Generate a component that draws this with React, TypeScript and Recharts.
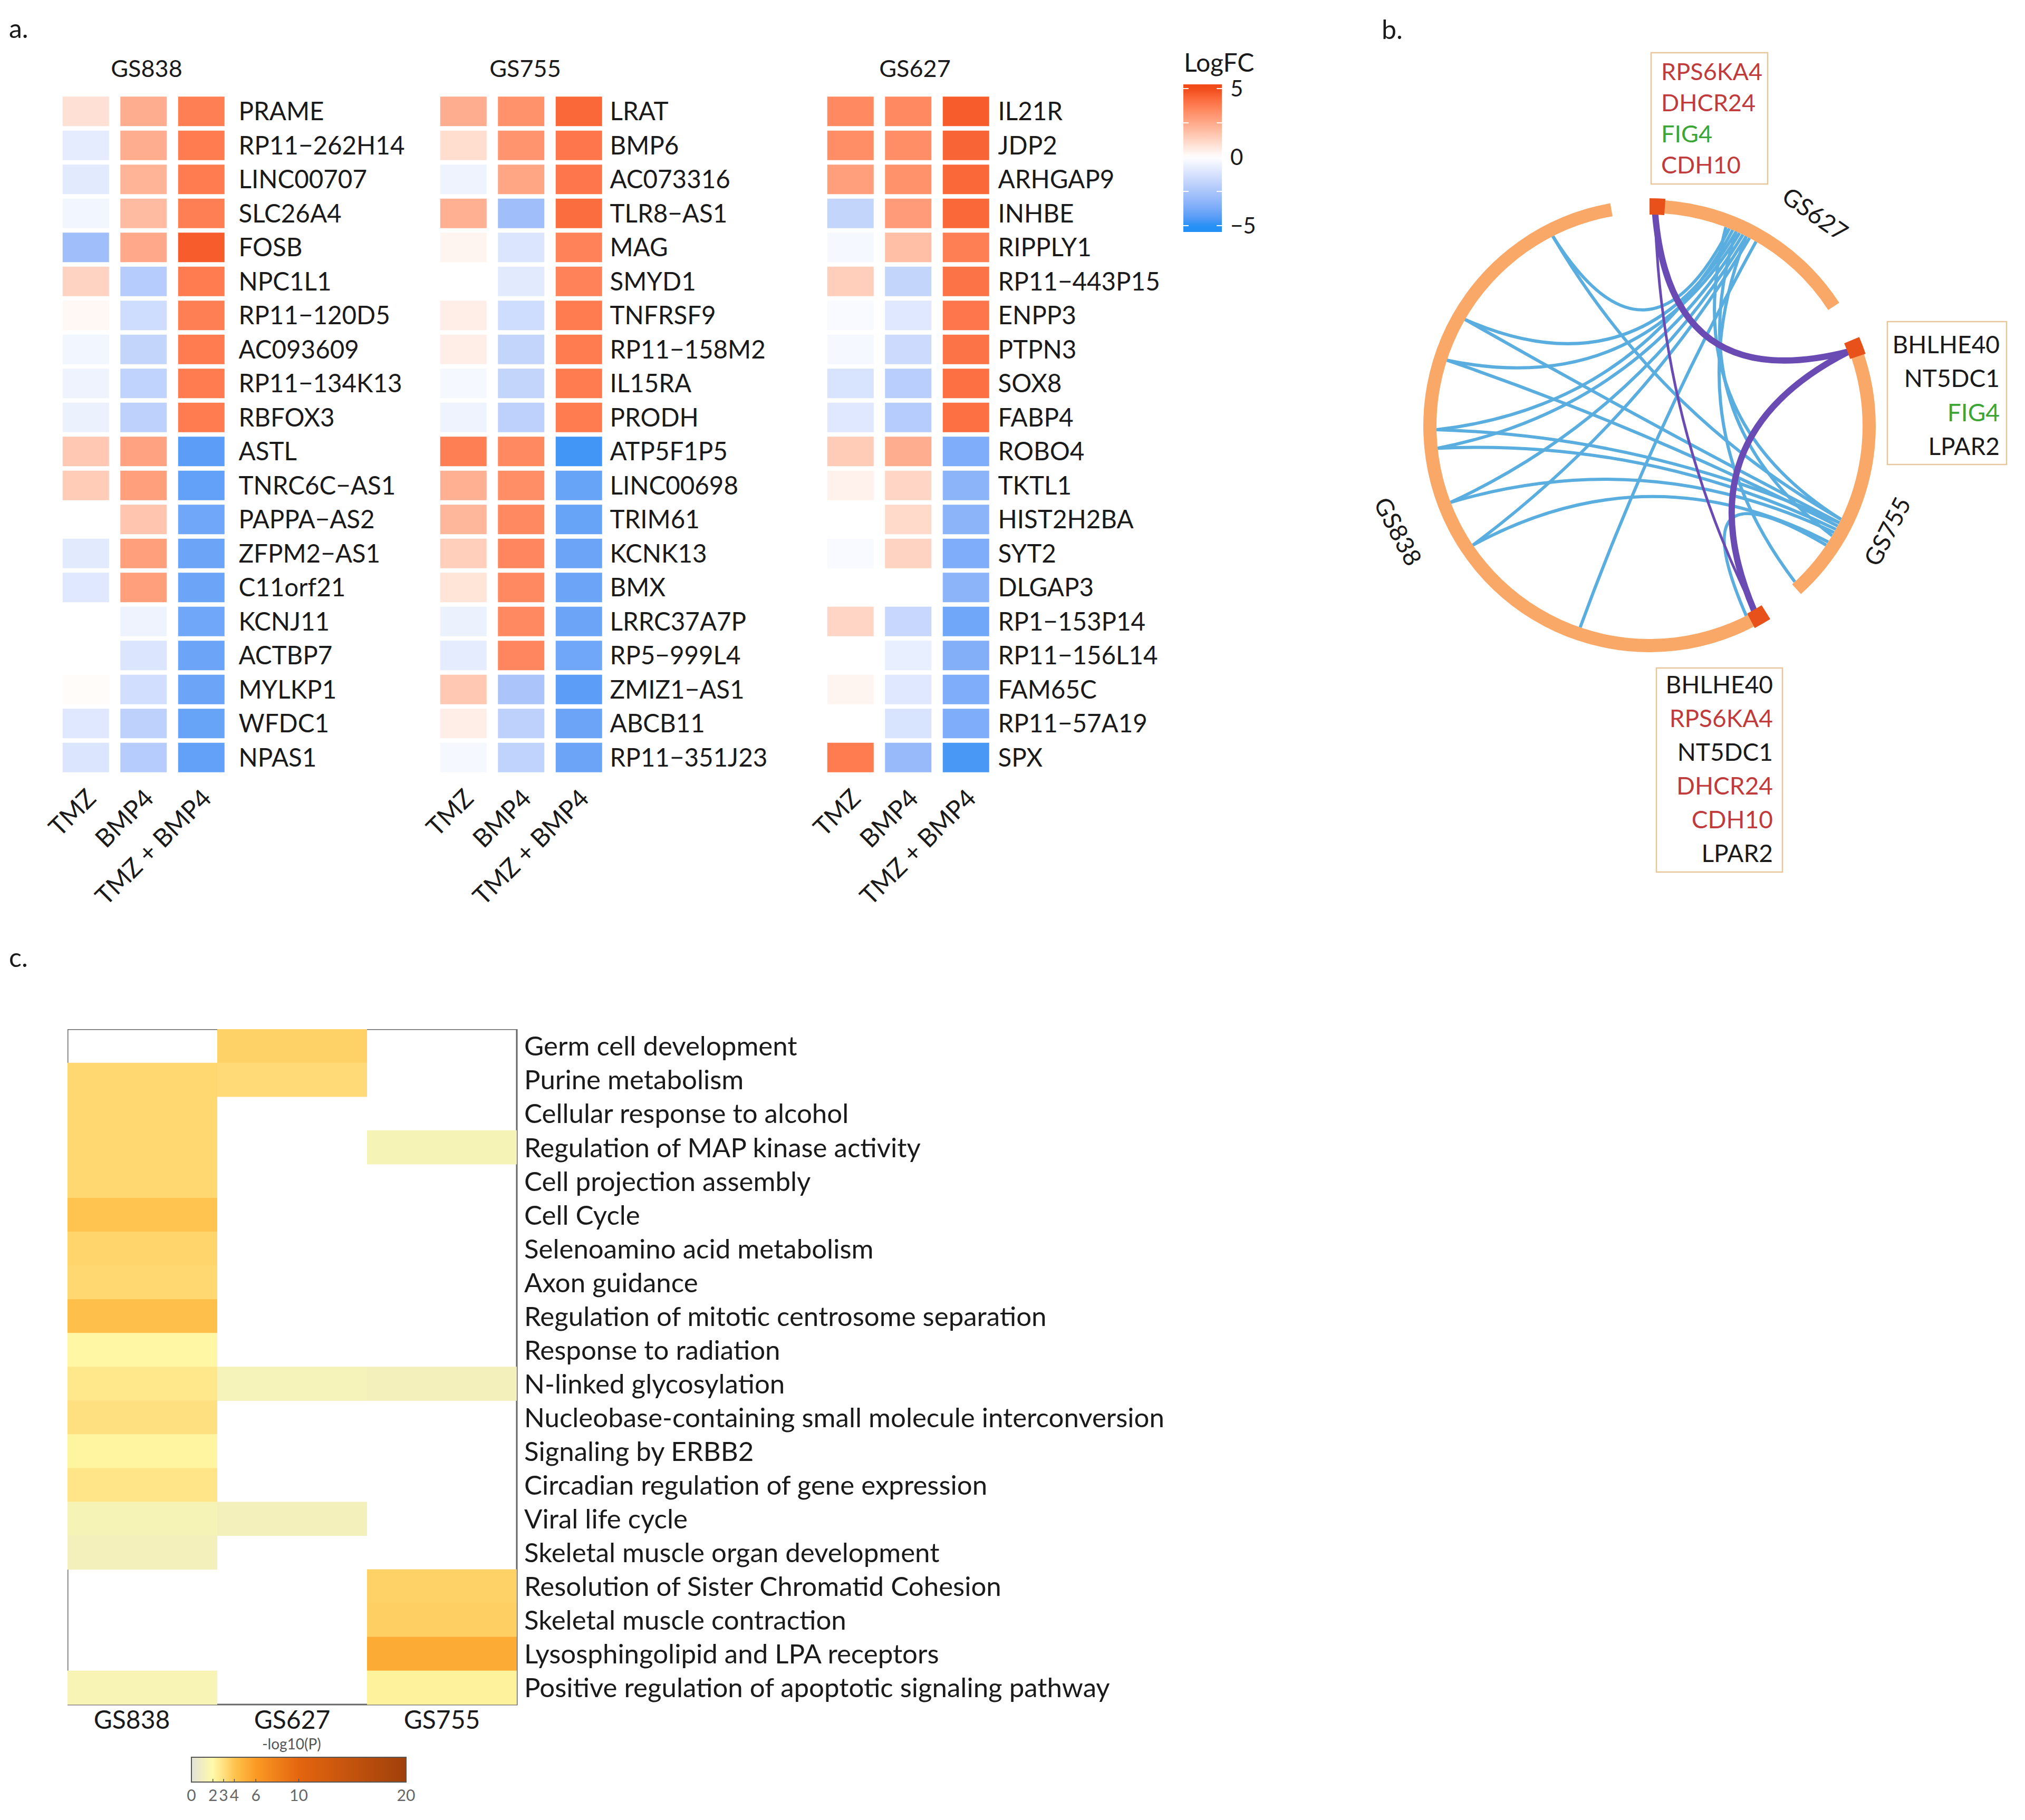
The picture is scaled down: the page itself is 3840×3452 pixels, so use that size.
import React from 'react';
import { ScatterChart, Scatter, XAxis, YAxis, PieChart, Pie, Cell, ReferenceArea, Customized } from 'recharts';

const FONT = 'Lato, "Open Sans", sans-serif';

// ---------- Panel a data ----------
const treatments = ['TMZ', 'BMP4', 'TMZ + BMP4'];

const genesGS838 = ['PRAME', 'RP11−262H14', 'LINC00707', 'SLC26A4', 'FOSB', 'NPC1L1', 'RP11−120D5', 'AC093609', 'RP11−134K13', 'RBFOX3', 'ASTL', 'TNRC6C−AS1', 'PAPPA−AS2', 'ZFPM2−AS1', 'C11orf21', 'KCNJ11', 'ACTBP7', 'MYLKP1', 'WFDC1', 'NPAS1'];
const logfcGS838 = [
  [0.9, 2.4, 3.7], [-0.8, 2.4, 3.8], [-0.9, 2.2, 3.8], [-0.4, 2.0, 3.7], [-2.8, 2.5, 4.6],
  [1.3, -2.2, 3.8], [0.2, -1.5, 3.7], [-0.4, -1.8, 3.8], [-0.5, -1.9, 3.8], [-0.6, -2.0, 3.8],
  [1.6, 2.7, -4.3], [1.5, 2.8, -4.2], [0.0, 1.7, -3.9], [-0.9, 2.8, -4.0], [-1.0, 2.8, -4.0],
  [0.0, -0.5, -3.9], [0.0, -1.1, -4.0], [0.1, -1.4, -4.0], [-1.0, -2.0, -4.1], [-1.1, -2.2, -4.2],
];

const genesGS755 = ['LRAT', 'BMP6', 'AC073316', 'TLR8−AS1', 'MAG', 'SMYD1', 'TNFRSF9', 'RP11−158M2', 'IL15RA', 'PRODH', 'ATP5F1P5', 'LINC00698', 'TRIM61', 'KCNK13', 'BMX', 'LRRC37A7P', 'RP5−999L4', 'ZMIZ1−AS1', 'ABCB11', 'RP11−351J23'];
const logfcGS755 = [
  [2.4, 3.2, 4.3], [1.0, 3.1, 3.9], [-0.5, 2.6, 3.9], [2.3, -2.8, 4.2], [0.3, -1.1, 3.6],
  [0.0, -0.9, 3.6], [0.5, -1.5, 3.8], [0.5, -1.8, 3.8], [-0.3, -1.8, 3.8], [-0.5, -2.0, 3.8],
  [3.7, 3.4, -4.7], [2.3, 3.3, -4.1], [2.1, 3.4, -4.1], [1.4, 3.5, -4.0], [0.8, 3.4, -4.0],
  [-0.6, 3.4, -4.0], [-0.8, 3.5, -3.9], [1.6, -2.5, -4.3], [0.5, -2.0, -4.0], [-0.3, -1.9, -4.0],
];

const genesGS627 = ['IL21R', 'JDP2', 'ARHGAP9', 'INHBE', 'RIPPLY1', 'RP11−443P15', 'ENPP3', 'PTPN3', 'SOX8', 'FABP4', 'ROBO4', 'TKTL1', 'HIST2H2BA', 'SYT2', 'DLGAP3', 'RP1−153P14', 'RP11−156L14', 'FAM65C', 'RP11−57A19', 'SPX'];
const logfcGS627 = [
  [3.4, 3.4, 4.6], [3.3, 3.3, 4.4], [2.8, 3.2, 4.3], [-1.8, 2.9, 4.3], [-0.3, 1.9, 3.7],
  [1.4, -1.8, 4.0], [-0.2, -1.0, 3.9], [-0.3, -1.6, 4.0], [-1.2, -2.1, 4.1], [-1.0, -2.2, 4.1],
  [1.5, 2.4, -3.6], [0.4, 1.2, -3.3], [0.0, 1.1, -3.3], [-0.2, 1.3, -3.6], [0.0, 0.0, -3.3],
  [1.2, -1.7, -3.9], [0.0, -0.7, -3.5], [0.3, -1.0, -3.6], [0.0, -1.2, -3.6], [3.8, -3.0, -4.6],
];
const logfcTicks = [5, 0, -5];

// ---------- Panel b data ----------
const chordGroups = [
  { name: 'GS627', size: 57 },
  { name: 'GS755', size: 71 },
  { name: 'GS838', size: 202 },
];
const chordGap = 10;
// [groupA, offsetA (deg from group start), groupB, offsetB]
const blueLinks = [
  ['GS838', 185, 'GS627', 22], ['GS838', 152, 'GS627', 24], ['GS838', 140, 'GS627', 25],
  ['GS838', 121, 'GS627', 23], ['GS838', 116, 'GS627', 26], ['GS838', 101, 'GS627', 27],
  ['GS838', 88, 'GS627', 28], ['GS838', 51, 'GS627', 30],
  ['GS838', 185, 'GS755', 49], ['GS838', 152, 'GS755', 50], ['GS838', 140, 'GS755', 51],
  ['GS838', 121, 'GS755', 50], ['GS838', 116, 'GS755', 52], ['GS838', 101, 'GS755', 53],
  ['GS838', 88, 'GS755', 56], ['GS838', 5, 'GS755', 57],
  ['GS627', 21, 'GS755', 49], ['GS627', 24, 'GS755', 54], ['GS627', 27, 'GS755', 70],
];
const purpleLinks = [
  ['GS627', 1.5, 'GS755', 2.5, 12],
  ['GS755', 2.5, 'GS838', 2.5, 12],
  ['GS627', 1.5, 'GS838', 2.5, 5],
];
// highlighted span (deg) at the start of each group
const highlightSpans = [4, 4.5, 4.5];
const boxTopGenes = ['RPS6KA4', 'DHCR24', 'FIG4', 'CDH10'];
const boxTopKinds = ['r', 'r', 'g', 'r'];
const boxRightGenes = ['BHLHE40', 'NT5DC1', 'FIG4', 'LPAR2'];
const boxRightKinds = ['k', 'k', 'g', 'k'];
const boxBottomGenes = ['BHLHE40', 'RPS6KA4', 'NT5DC1', 'DHCR24', 'CDH10', 'LPAR2'];
const boxBottomKinds = ['k', 'r', 'k', 'r', 'r', 'k'];

// ---------- Panel c data ----------
const pathways = ['Germ cell development', 'Purine metabolism', 'Cellular response to alcohol', 'Regulation of MAP kinase activity', 'Cell projection assembly', 'Cell Cycle', 'Selenoamino acid metabolism', 'Axon guidance', 'Regulation of mitotic centrosome separation', 'Response to radiation', 'N-linked glycosylation', 'Nucleobase-containing small molecule interconversion', 'Signaling by ERBB2', 'Circadian regulation of gene expression', 'Viral life cycle', 'Skeletal muscle organ development', 'Resolution of Sister Chromatid Cohesion', 'Skeletal muscle contraction', 'Lysosphingolipid and LPA receptors', 'Positive regulation of apoptotic signaling pathway'];
const enrichColumns = ['GS838', 'GS627', 'GS755'];
const enrichGS838 = [null, 3.3, 3.3, 3.3, 3.3, 4.0, 3.4, 3.3, 4.2, 2.1, 2.7, 3.0, 2.2, 2.8, 1.4, 1.2, null, null, null, 1.5];
const enrichGS627 = [3.5, 3.2, null, null, null, null, null, null, null, null, 1.3, null, null, null, 1.2, null, null, null, null, null];
const enrichGS755 = [null, null, null, 1.4, null, null, null, null, null, null, 1.2, null, null, null, null, null, 3.5, 3.6, 5.2, 2.3];
const pTicks = [0, 2, 3, 4, 6, 10, 20];

// ---------- colour helpers ----------
function hexToRgb(h: string) { const n = parseInt(h.slice(1), 16); return [(n >> 16) & 255, (n >> 8) & 255, n & 255]; }
function s2l(c: number) { c /= 255; return c <= 0.04045 ? c / 12.92 : Math.pow((c + 0.055) / 1.055, 2.4); }
function l2s(c: number) { const v = c <= 0.0031308 ? 12.92 * c : 1.055 * Math.pow(c, 1 / 2.4) - 0.055; return Math.round(Math.max(0, Math.min(1, v)) * 255); }
function rgbToLab(rgb: number[]) {
  const R = s2l(rgb[0]), G = s2l(rgb[1]), B = s2l(rgb[2]);
  const X = (0.4124 * R + 0.3576 * G + 0.1805 * B) / 0.95047;
  const Y = 0.2126 * R + 0.7152 * G + 0.0722 * B;
  const Z = (0.0193 * R + 0.1192 * G + 0.9505 * B) / 1.08883;
  const f = (t: number) => (t > 0.008856 ? Math.cbrt(t) : 7.787 * t + 16 / 116);
  const fx = f(X), fy = f(Y), fz = f(Z);
  return [116 * fy - 16, 500 * (fx - fy), 200 * (fy - fz)];
}
function labToHex(lab: number[]) {
  const fy = (lab[0] + 16) / 116, fx = fy + lab[1] / 500, fz = fy - lab[2] / 200;
  const fi = (t: number) => (t * t * t > 0.008856 ? t * t * t : (t - 16 / 116) / 7.787);
  const X = fi(fx) * 0.95047, Y = fi(fy), Z = fi(fz) * 1.08883;
  const r = l2s(3.2406 * X - 1.5372 * Y - 0.4986 * Z);
  const g = l2s(-0.9689 * X + 1.8758 * Y + 0.0415 * Z);
  const b = l2s(0.0557 * X - 0.204 * Y + 1.057 * Z);
  return '#' + [r, g, b].map((c) => c.toString(16).padStart(2, '0')).join('');
}
const LAB_W = rgbToLab(hexToRgb('#FFFFFF'));
const LAB_R = rgbToLab(hexToRgb('#F24A18'));
const LAB_B = rgbToLab(hexToRgb('#2490F5'));
function logfcColor(v: number) {
  const t = Math.min(1, Math.abs(v) / 5);
  const end = v >= 0 ? LAB_R : LAB_B;
  return labToHex(LAB_W.map((w, i) => w + (end[i] - w) * t));
}
const pStops: [number, string][] = [[0, '#E2E2DA'], [2, '#FFFAA8'], [3, '#FFE080'], [4, '#FEC44F'], [6, '#FB9A24'], [10, '#E4650F'], [20, '#A0400A']];
function pColor(v: number) {
  const x = Math.max(0, Math.min(20, v));
  for (let i = 0; i < pStops.length - 1; i++) {
    const [a, ca] = pStops[i];
    const [b, cb] = pStops[i + 1];
    if (x <= b) {
      const t = (x - a) / (b - a);
      const A = hexToRgb(ca), B = hexToRgb(cb);
      return '#' + A.map((c, k) => Math.round(c + (B[k] - c) * t).toString(16).padStart(2, '0')).join('');
    }
  }
  return pStops[pStops.length - 1][1];
}

// ---------- Panel a heatmap ----------
const COL_W = 109.5;
const ROW_H = 64.5;
const CELL_W = 88;
const CELL_H = 56;
const PAD_L = 160;

function LogFCHeatmap({ left, top, genes, values, labelGap }: any) {
  const plotW = COL_W * 3;
  const plotH = ROW_H * genes.length;
  const labelW = 420;
  const xAxisH = 300;
  const data: any[] = [];
  genes.forEach((g: string, r: number) => values[r].forEach((v: number, c: number) => data.push({ x: c + 0.5, y: r + 0.5, v, gene: g })));
  const rotTick = (p: any) => {
    const lbl = treatments[Math.round(p.payload.value - 0.5)];
    const x = p.x + 10;
    const y = p.y + 36;
    return (
      <text x={x} y={y} transform={`rotate(-45 ${x} ${y})`} textAnchor="end" dy="0.36em" fontSize={48} fontFamily={FONT} fill="#1a1a1a">{lbl}</text>
    );
  };
  const geneTick = (p: any) => (
    <text x={p.x + labelGap} y={p.y} dy="0.36em" fontSize={47.5} fontFamily={FONT} fill="#1a1a1a">{genes[Math.round(p.payload.value - 0.5)]}</text>
  );
  return (
    <div style={{ position: 'absolute', left: left - PAD_L, top }}>
      <ScatterChart width={PAD_L + plotW + labelW} height={plotH + xAxisH} margin={{ top: 0, right: 0, bottom: 0, left: PAD_L }}>
        <XAxis type="number" dataKey="x" domain={[0, 3]} ticks={[0.5, 1.5, 2.5]} interval={0} height={xAxisH} axisLine={false} tickLine={false} tickSize={0} tickMargin={0} tick={rotTick} />
        <YAxis type="number" dataKey="y" domain={[0, genes.length]} reversed orientation="right" width={labelW} ticks={genes.map((_: any, i: number) => i + 0.5)} interval={0} axisLine={false} tickLine={false} tickSize={0} tickMargin={0} tick={geneTick} />
        <Scatter data={data} isAnimationActive={false} shape={(p: any) => (
          <rect x={p.cx - CELL_W / 2} y={p.cy - CELL_H / 2} width={CELL_W} height={CELL_H} fill={logfcColor(p.payload.v)} />
        )} />
      </ScatterChart>
    </div>
  );
}

// ---------- Panel b chord ----------
const CH_CX = 3128;
const CH_CY = 808;
const R_IN = 404;
const R_OUT = 429;
const CH_SIZE = 1000;

function groupStarts() {
  const starts: Record<string, number> = {};
  let a = 0;
  chordGroups.forEach((g) => { starts[g.name] = a; a += g.size + chordGap; });
  return starts;
}
function ChordLayer() {
  const starts = groupStarts();
  const c = CH_SIZE / 2;
  const pt = (g: string, off: number, r: number) => {
    const th = ((starts[g] + off) * Math.PI) / 180;
    return [c + r * Math.sin(th), c - r * Math.cos(th)];
  };
  const path = (ga: string, oa: number, gb: string, ob: number) => {
    const p1 = pt(ga, oa, R_IN);
    const p2 = pt(gb, ob, R_IN);
    const mx = (p1[0] + p2[0]) / 2, my = (p1[1] + p2[1]) / 2;
    const k = 0.2;
    const qx = c + k * (mx - c), qy = c + k * (my - c);
    return `M${p1[0]},${p1[1]} Q${qx},${qy} ${p2[0]},${p2[1]}`;
  };
  return (
    <g>
      {blueLinks.map((l: any, i) => (
        <path key={'b' + i} d={path(l[0], l[1], l[2], l[3])} fill="none" stroke="#5AADDF" strokeWidth={6} />
      ))}
      {purpleLinks.map((l: any, i) => (
        <path key={'p' + i} d={path(l[0], l[1], l[2], l[3])} fill="none" stroke="#6A4BB3" strokeWidth={l[4]} />
      ))}
    </g>
  );
}

function ChordDiagram() {
  // highlight ring: red span at the start of each group, rest transparent, gaps transparent
  const hlData: any[] = [];
  chordGroups.forEach((g, i) => {
    hlData.push({ v: highlightSpans[i], fill: '#E8521A' });
    hlData.push({ v: g.size - highlightSpans[i], fill: 'transparent' });
    hlData.push({ v: chordGap, fill: 'transparent' });
  });
  return (
    <div style={{ position: 'absolute', left: CH_CX - CH_SIZE / 2, top: CH_CY - CH_SIZE / 2 }}>
      <PieChart width={CH_SIZE} height={CH_SIZE} margin={{ top: 0, right: 0, bottom: 0, left: 0 }}>
        <Customized component={<ChordLayer />} />
        <Pie data={chordGroups} dataKey="size" nameKey="name" cx={CH_SIZE / 2} cy={CH_SIZE / 2} innerRadius={R_IN} outerRadius={R_OUT}
          startAngle={90} endAngle={-270} paddingAngle={chordGap} stroke="none" isAnimationActive={false} label={false} labelLine={false}>
          {chordGroups.map((g) => <Cell key={g.name} fill="#F9A867" />)}
        </Pie>
        <Pie data={hlData} dataKey="v" cx={CH_SIZE / 2} cy={CH_SIZE / 2} innerRadius={R_IN - 3} outerRadius={R_OUT + 3}
          startAngle={90} endAngle={-270} paddingAngle={0} stroke="none" isAnimationActive={false} label={false} labelLine={false}>
          {hlData.map((d, i) => <Cell key={i} fill={d.fill} />)}
        </Pie>
      </PieChart>
    </div>
  );
}

// ---------- Panel c ----------
const C_LEFT = 128;
const C_TOP = 1952;
const C_W = 852;
const C_H = 1281;

function EnrichHeatmap() {
  const cols = [enrichGS838, enrichGS627, enrichGS755];
  const data: any[] = [];
  cols.forEach((col, c) => col.forEach((v, r) => { if (v !== null) data.push({ x: c + 0.5, y: r + 0.5, v }); }));
  const cw = C_W / 3, rh = C_H / pathways.length;
  const labelW = 1400;
  const xH = 90;
  const colTick = (p: any) => {
    const i = Math.round(p.payload.value - 0.5);
    return (
      <text x={p.x + (i === 0 ? -20 : 0)} y={p.y + 46} textAnchor="middle" fontSize={48} fontFamily={FONT} fill="#1a1a1a">{enrichColumns[i]}</text>
    );
  };
  const rowTick = (p: any) => (
    <text x={p.x + 14} y={p.y} dy="0.36em" fontSize={51} fontFamily={FONT} fill="#1a1a1a">{pathways[Math.round(p.payload.value - 0.5)]}</text>
  );
  return (
    <div style={{ position: 'absolute', left: C_LEFT, top: C_TOP }}>
      <ScatterChart width={C_W + labelW} height={C_H + xH} margin={{ top: 0, right: 0, bottom: 0, left: 0 }}>
        <XAxis type="number" dataKey="x" domain={[0, 3]} ticks={[0.5, 1.5, 2.5]} interval={0} height={xH} axisLine={false} tickLine={false} tickSize={0} tickMargin={0} tick={colTick} />
        <YAxis type="number" dataKey="y" domain={[0, pathways.length]} reversed orientation="right" width={labelW} ticks={pathways.map((_, i) => i + 0.5)} interval={0} axisLine={false} tickLine={false} tickSize={0} tickMargin={0} tick={rowTick} />
        <Scatter data={data} isAnimationActive={false} shape={(p: any) => (
          <rect x={p.cx - cw / 2} y={p.cy - rh / 2 - 0.3} width={cw} height={rh + 0.6} fill={pColor(p.payload.v)} />
        )} />
        <ReferenceArea x1={0} x2={3} y1={0} y2={pathways.length} fill="none" stroke="#666" strokeWidth={3} />
      </ScatterChart>
    </div>
  );
}

// ---------- overlay ----------
const TXT = { fontFamily: FONT, fill: '#1a1a1a' } as any;
const kindColor: Record<string, string> = { r: '#C03B3C', g: '#3BA535', k: '#1a1a1a' };

function Overlay() {
  const lgTop = 160, lgBot = 440, lgX = 2244, lgW = 73;
  const yOf = (v: number) => 168 + (5 - v) * 26;
  const lgStops: number[] = [];
  for (let v = 5.4; v >= -5.6; v -= 0.25) lgStops.push(v);
  const cbX = 363, cbW = 407, cbY = 3333, cbH = 47;
  const pStopsFine: number[] = [];
  for (let v = 0; v <= 20.001; v += 0.5) pStopsFine.push(v);
  return (
    <svg width={3840} height={3452} style={{ position: 'absolute', left: 0, top: 0, pointerEvents: 'none' }}>
      <defs>
        <linearGradient id="lfc" x1="0" y1="0" x2="0" y2="1">
          {lgStops.map((v, i) => (
            <stop key={i} offset={(yOf(v) - lgTop) / (lgBot - lgTop)} stopColor={logfcColor(v)} />
          ))}
        </linearGradient>
        <linearGradient id="pg" x1="0" y1="0" x2="1" y2="0">
          {pStopsFine.map((v, i) => <stop key={i} offset={v / 20} stopColor={pColor(v)} />)}
        </linearGradient>
      </defs>
      {/* panel letters */}
      <text x={17} y={72} fontSize={50} {...TXT}>a.</text>
      <text x={2620} y={74} fontSize={50} {...TXT}>b.</text>
      <text x={17} y={1834} fontSize={50} {...TXT}>c.</text>
      {/* heatmap titles */}
      <text x={278} y={146} fontSize={45} textAnchor="middle" {...TXT}>GS838</text>
      <text x={996} y={146} fontSize={45} textAnchor="middle" {...TXT}>GS755</text>
      <text x={1735} y={146} fontSize={45} textAnchor="middle" {...TXT}>GS627</text>
      {/* LogFC legend */}
      <text x={2245} y={136} fontSize={48} {...TXT}>LogFC</text>
      <rect x={lgX} y={lgTop} width={lgW} height={lgBot - lgTop} fill="url(#lfc)" />
      {[5, 2.5, -2.5, -5].map((v) => (
        <g key={v}>
          <line x1={lgX} x2={lgX + 10} y1={yOf(v)} y2={yOf(v)} stroke="#fff" strokeWidth={2} />
          <line x1={lgX + lgW - 10} x2={lgX + lgW} y1={yOf(v)} y2={yOf(v)} stroke="#fff" strokeWidth={2} />
        </g>
      ))}
      {logfcTicks.map((v) => (
        <text key={v} x={2333} y={yOf(v)} dy="0.36em" fontSize={42} {...TXT}>{v < 0 ? '−' + Math.abs(v) : String(v)}</text>
      ))}
      {/* chord labels */}
      <text x={3442} y={406} fontSize={46} textAnchor="middle" dy="0.36em" transform="rotate(35 3442 406)" {...TXT}>GS627</text>
      <text x={3579} y={1008} fontSize={46} textAnchor="middle" dy="0.36em" transform="rotate(-63 3579 1008)" {...TXT}>GS755</text>
      <text x={2651} y={1008} fontSize={46} textAnchor="middle" dy="0.36em" transform="rotate(62 2651 1008)" {...TXT}>GS838</text>
      {/* gene boxes */}
      <rect x={3131} y={100} width={221} height={249} fill="none" stroke="#E8C69C" strokeWidth={2.5} />
      {boxTopGenes.map((g, i) => (
        <text key={'t' + i} x={3150} y={136 + i * 59} dy="0.36em" fontSize={45} fontFamily={FONT} fill={kindColor[boxTopKinds[i]]}>{g}</text>
      ))}
      <rect x={3579} y={610} width={226} height={271} fill="none" stroke="#E8C69C" strokeWidth={2.5} />
      {boxRightGenes.map((g, i) => (
        <text key={'r' + i} x={3792} y={653 + i * 64.5} dy="0.36em" textAnchor="end" fontSize={46} fontFamily={FONT} fill={kindColor[boxRightKinds[i]]}>{g}</text>
      ))}
      <rect x={3141} y={1267} width={239} height={387} fill="none" stroke="#E8C69C" strokeWidth={2.5} />
      {boxBottomGenes.map((g, i) => (
        <text key={'bb' + i} x={3362} y={1298 + i * 64} dy="0.36em" textAnchor="end" fontSize={46} fontFamily={FONT} fill={kindColor[boxBottomKinds[i]]}>{g}</text>
      ))}
      {/* panel c colour bar */}
      <text x={553} y={3308} fontSize={28} textAnchor="middle" dy="0.36em" fontFamily={FONT} fill="#555">-log10(P)</text>
      <rect x={cbX} y={cbY} width={cbW} height={cbH} fill="url(#pg)" stroke="#555" strokeWidth={2} />
      {pTicks.map((v) => (
        <g key={v}>
          <line x1={cbX + (v / 20) * cbW} x2={cbX + (v / 20) * cbW} y1={cbY + cbH - 6} y2={cbY + cbH} stroke="#555" strokeWidth={1.5} />
          <text x={cbX + (v / 20) * cbW} y={3416} fontSize={30} textAnchor="middle" fontFamily={FONT} fill="#666">{v}</text>
        </g>
      ))}
    </svg>
  );
}

export default function App() {
  return (
    <div style={{ position: 'absolute', left: 0, top: 0, width: 3840, height: 3452, background: '#fff', fontFamily: FONT, overflow: 'hidden' }}>
      <LogFCHeatmap left={108} top={179} genes={genesGS838} values={logfcGS838} labelGap={16} />
      <LogFCHeatmap left={824} top={179} genes={genesGS755} values={logfcGS755} labelGap={4} />
      <LogFCHeatmap left={1558} top={179} genes={genesGS627} values={logfcGS627} labelGap={6} />
      <ChordDiagram />
      <EnrichHeatmap />
      <Overlay />
    </div>
  );
}
